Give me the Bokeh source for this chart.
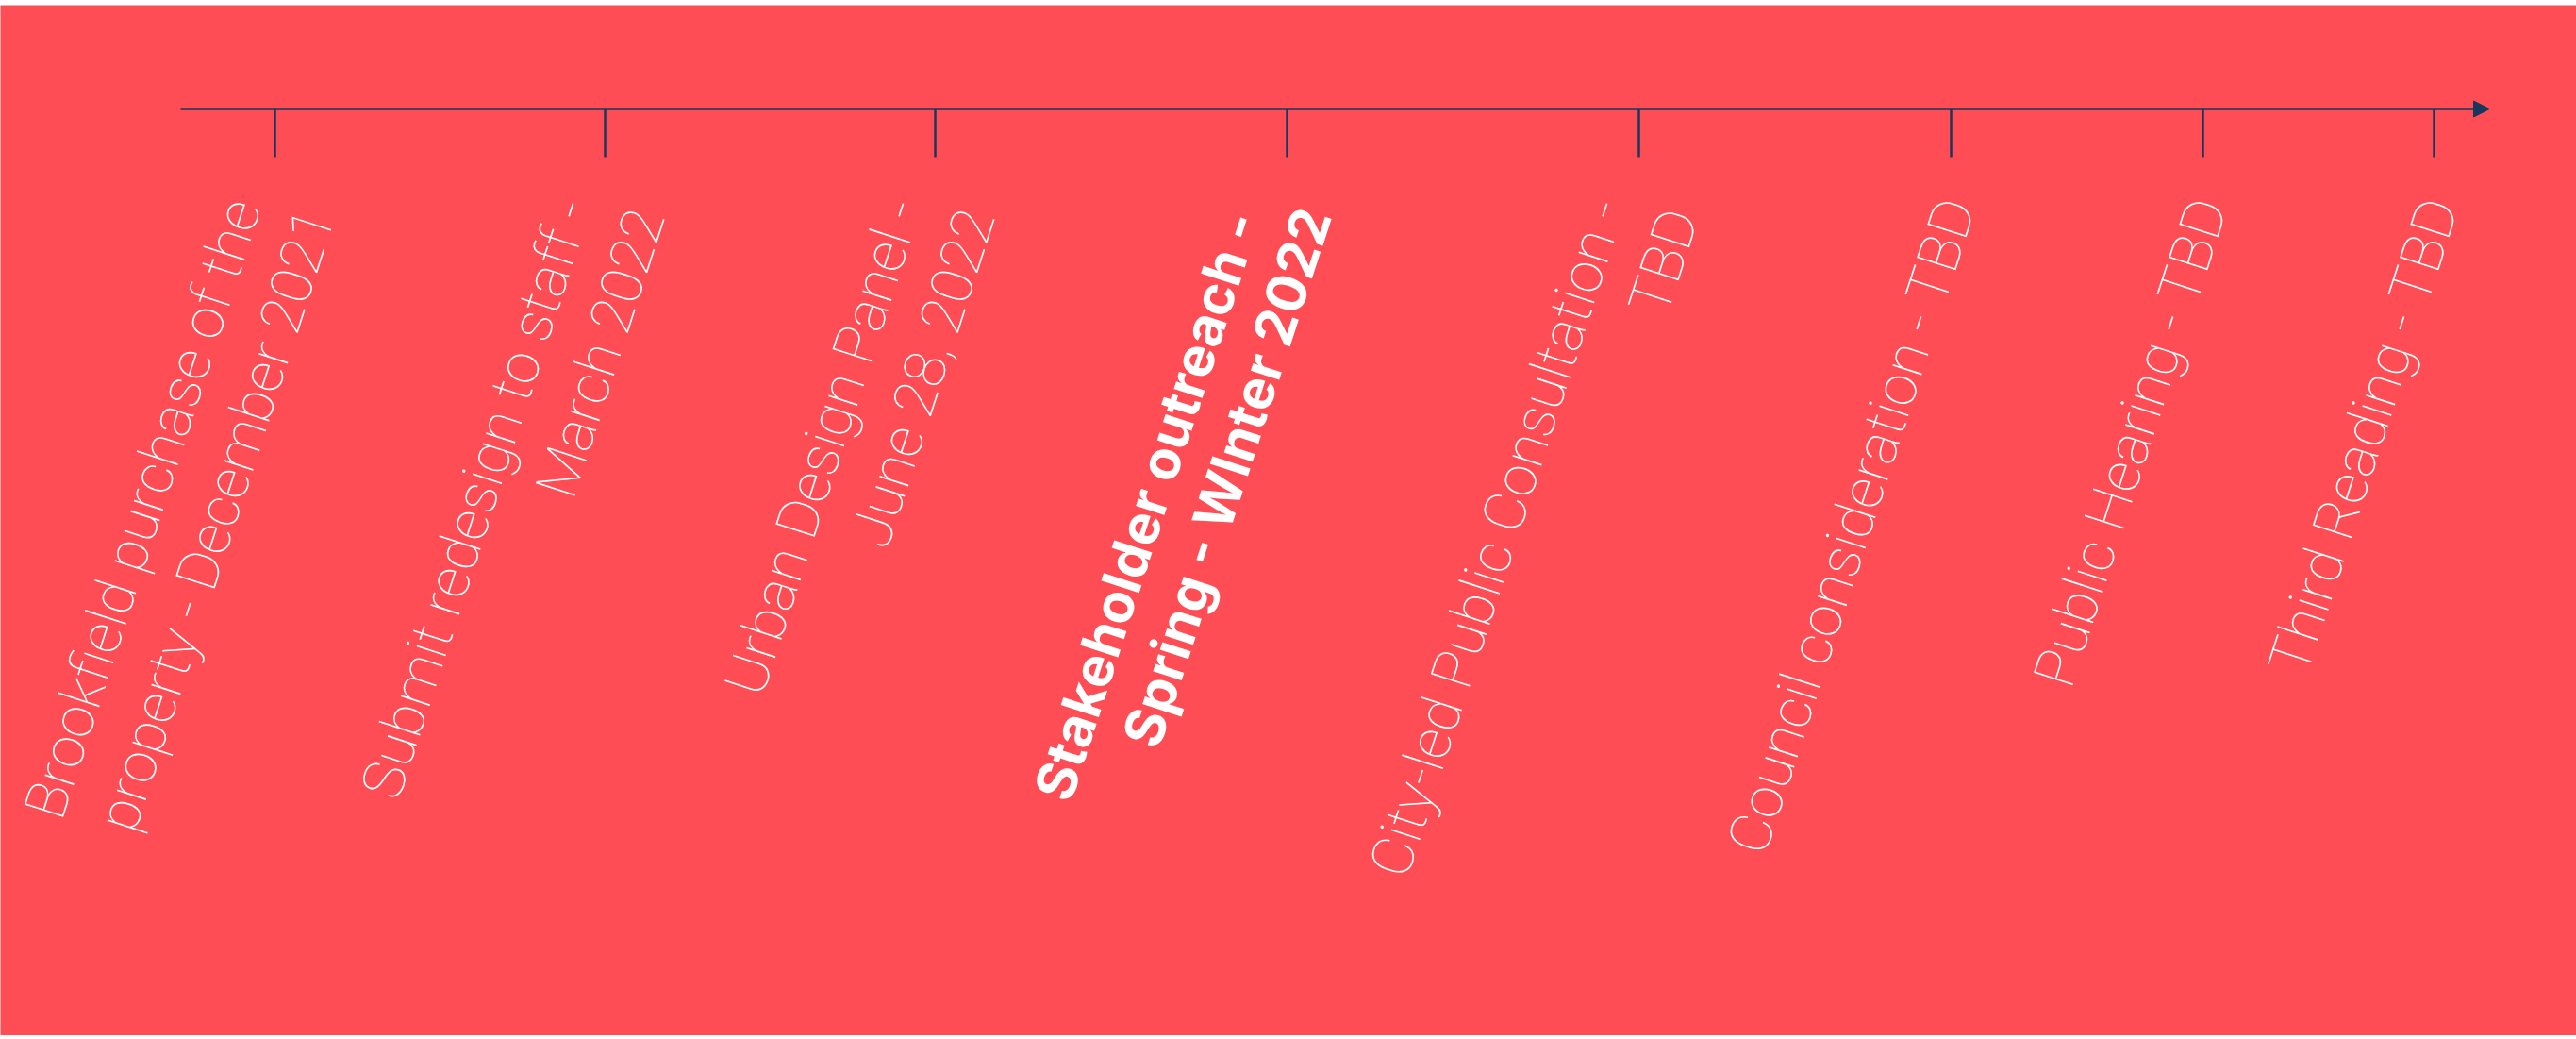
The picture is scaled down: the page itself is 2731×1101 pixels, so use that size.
from bokeh.plotting import figure
from bokeh.embed import file_html
from bokeh.resources import INLINE
from bokeh.core.properties import value
from bokeh.models import Range1d, ColumnDataSource, Arrow, NormalHead, Spacer
from bokeh.layouts import column

# ---- data ----
milestones = [
    "Brookfield purchase of the \nproperty - December 2021",
    "Submit redesign to staff - \nMarch 2022",
    "Urban Design Panel - \nJune 28, 2022",
    "Stakeholder outreach -  \nSpring - WInter 2022",
    "City-led Public Consultation - \nTBD",
    "Council consideration - TBD",
    "Public Hearing - TBD",
    "Third Reading - TBD",
]
milestone_pos = [291, 641, 991, 1364, 1737, 2068, 2335, 2580]
highlight = [False, False, False, True, False, False, False, False]

# ---- style / layout ----
BG = "#ff4d55"
NAVY = "#17375e"
TOP = 5
W, H = 2731, 1092
axis_y = -115
axis_start, axis_end = 191, 2639
tick_len = 51
label_dx, label_y = 7, -211
bold_dx = -6
ANGLE = 72

p = figure(width=W, height=H, output_backend="svg", toolbar_location=None,
           x_range=Range1d(0, W), y_range=Range1d(-TOP - H, -TOP),
           min_border=0, outline_line_color=None)
p.axis.visible = False
p.grid.visible = False
p.background_fill_color = BG
p.border_fill_color = BG

# timeline axis with arrow
p.add_layout(Arrow(end=NormalHead(size=17, fill_color=NAVY, line_color=NAVY, line_width=1),
                   x_start=axis_start, y_start=axis_y, x_end=axis_end, y_end=axis_y,
                   line_color=NAVY, line_width=2.5))

# ticks
p.segment(x0=milestone_pos, y0=[axis_y] * len(milestone_pos),
          x1=milestone_pos, y1=[axis_y - tick_len] * len(milestone_pos),
          line_color=NAVY, line_width=2.5)

# labels
norm = ColumnDataSource(dict(
    x=[x + label_dx for x, h in zip(milestone_pos, highlight) if not h],
    y=[label_y for h in highlight if not h],
    t=[m for m, h in zip(milestones, highlight) if not h]))
bold = ColumnDataSource(dict(
    x=[x + bold_dx for x, h in zip(milestone_pos, highlight) if h],
    y=[label_y for h in highlight if h],
    t=[m for m, h in zip(milestones, highlight) if h]))

p.text(x="x", y="y", text="t", source=norm, angle=ANGLE, angle_units="deg",
       text_align="right", text_baseline="middle", text_color="white",
       text_font=value("Roboto Thin"), text_font_size="61px", text_line_height=1.08)
p.text(x="x", y="y", text="t", source=bold, angle=ANGLE, angle_units="deg",
       text_align="right", text_baseline="middle", text_color="white",
       text_font=value("Inter"), text_font_style="bold", text_font_size="58px", text_line_height=1.02)

layout = column(Spacer(width=W, height=TOP), p, spacing=0)
open("out.html", "w").write(file_html(layout, INLINE))
